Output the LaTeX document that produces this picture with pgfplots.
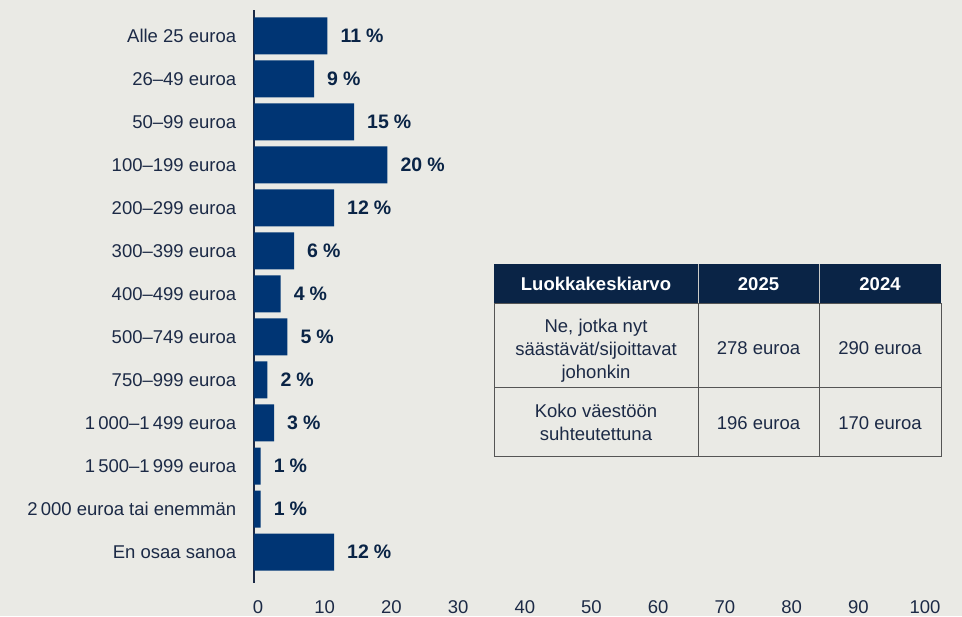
\documentclass[border=0pt]{standalone}
\usepackage{fontspec}
\setmainfont{Liberation Sans}
\usepackage{pgfplots}
\pgfplotsset{compat=1.18}
\definecolor{bg}{RGB}{234,234,229}
\definecolor{barblue}{RGB}{0,53,116}
\definecolor{navy}{RGB}{10,36,70}
\definecolor{labelc}{RGB}{28,42,70}
\definecolor{rulec}{RGB}{85,85,85}

\begin{document}
\begin{tikzpicture}[x=1pt,y=1pt]
\fill[bg] (0,0) rectangle (962,-616);
\begin{axis}[
    at={(254pt,-583pt)}, anchor=south west,
    scale only axis, width=667pt, height=573pt,
    xbar, bar width=37pt,
    xmin=0, xmax=100,
    ymin=-0.6, ymax=12.72, y dir=reverse,
    axis x line*=bottom, axis y line*=left,
    axis line style={-},
    x axis line style={draw=none},
    y axis line style={draw=labelc, line width=1.2pt},
    tick style={draw=none},
    xtick={0,10,...,100},
    ytick={0,...,12},
    yticklabels={Alle 25 euroa,26–49 euroa,50–99 euroa,100–199 euroa,200–299 euroa,300–399 euroa,400–499 euroa,500–749 euroa,750–999 euroa,1\,000–1\,499 euroa,1\,500–1\,999 euroa,2\,000 euroa tai enemmän,En osaa sanoa},
    /pgf/number format/assume math mode=true,
    ticklabel style={font=\fontsize{18.5}{20}\selectfont, text=labelc},
    xticklabel style={anchor=center, yshift=-24pt, xshift=4pt},
    yticklabel style={xshift=-10pt},
    point meta=x,
    nodes near coords={\pgfmathprintnumber{\pgfplotspointmeta}\hspace{5pt}\%},
    every node near coord/.append style={font=\bfseries\fontsize{19.5}{20}\selectfont, text=navy, anchor=west, inner sep=0pt, xshift=13pt},
]
\addplot[fill=barblue, draw=none] coordinates {
    (11,0) (9,1) (15,2) (20,3) (12,4) (6,5) (4,6) (5,7) (2,8) (3,9) (1,10) (1,11) (12,12)
};
\end{axis}
% table
\fill[navy] (494,-264) rectangle (941,-303);
\draw[rulec, line width=1pt] (494,-303) rectangle (941,-456);
\draw[rulec, line width=1pt] (494,-387) -- (941,-387);
\draw[rulec, line width=1pt] (698,-303) -- (698,-456);
\draw[rulec, line width=1pt] (819,-303) -- (819,-456);
\draw[bg!70!gray, line width=1pt] (698,-264) -- (698,-303);
\draw[bg!70!gray, line width=1pt] (819,-264) -- (819,-303);
\begin{scope}[every node/.style={font=\fontsize{18.5}{23}\selectfont, text=labelc, align=center}]
\node[text=white, font=\bfseries\fontsize{18.5}{23}\selectfont] at (596,-284) {Luokkakeskiarvo};
\node[text=white, font=\bfseries\fontsize{18.5}{23}\selectfont] at (758.5,-284) {2025};
\node[text=white, font=\bfseries\fontsize{18.5}{23}\selectfont] at (880,-284) {2024};
\node at (596,-351) {Ne, jotka nyt\\säästävät/sijoittavat\\johonkin};
\node at (758.5,-348) {278 euroa};
\node at (880,-348) {290 euroa};
\node at (596,-422) {Koko väestöön\\suhteutettuna};
\node at (758.5,-423) {196 euroa};
\node at (880,-423) {170 euroa};
\end{scope}
\end{tikzpicture}
\end{document}
